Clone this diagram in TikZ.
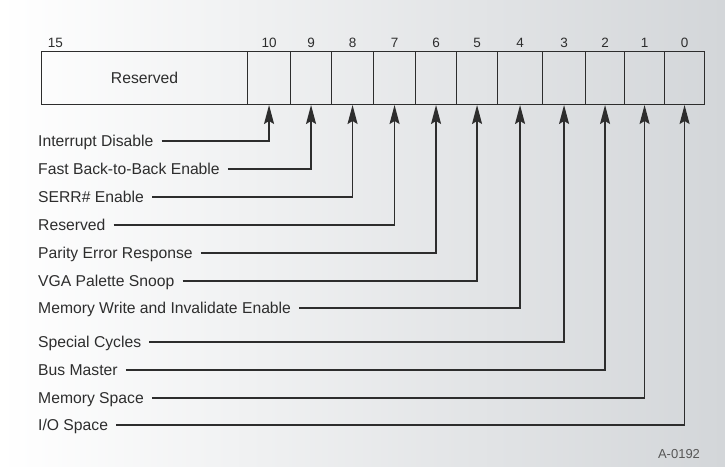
\documentclass[tikz,border=0pt]{standalone}
\usepackage{fontspec}
\setmainfont{Liberation Sans}
\usetikzlibrary{arrows.meta,positioning}
\definecolor{bgright}{RGB}{211,214,217}
\definecolor{ink}{RGB}{45,45,45}

\begin{document}
\begin{tikzpicture}[x=1pt, y=-1pt,
        every node/.append style = {text=ink},
        cell/.style = {draw=ink, line width=1.1pt, minimum height=53pt, inner sep=0pt, anchor=south west},
        bitnum/.style = {font=\fontsize{13.5}{16}\selectfont, anchor=base, inner sep=0pt},
        field/.style = {font=\fontsize{15.7}{18}\selectfont, anchor=west, inner sep=0pt, text height=11.2pt, text depth=0pt},
        conn/.style = {draw=ink, line width=1.4pt, shorten <=8pt, -{Stealth[length=19pt,width=10pt,inset=3pt]}}]
    \shade[left color=white, right color=bgright] (0,0) rectangle (725,466);
    \useasboundingbox (0,0) rectangle (725,466);
    % register
    \node[cell, minimum width=206pt, font=\fontsize{15.7}{18}\selectfont] (rsv) at (41,105) {Reserved};
    \node[bitnum] (n15) at ([xshift=14.5pt,yshift=3.5pt]rsv.north west) {15};
    \foreach \b/\l/\r in {10/247/290, 9/290/331, 8/331/373, 7/373/415, 6/415/456,
                          5/456/497, 4/497/542, 3/542/585, 2/585/624, 1/624/664, 0/664/704} {
        \node[cell, minimum width={(\r-\l)*1pt}] (b\b) at (\l,105) {};
        \node[bitnum] (n\b) at ([yshift=3.5pt]b\b.north) {\b};
    }
    % fields
    \foreach \b/\y/\t in {10/141/Interrupt Disable, 9/169/Fast Back-to-Back Enable,
                          8/197/SERR\# Enable, 7/225/Reserved, 6/253/Parity Error Response,
                          5/281/VGA Palette Snoop, 4/308/Memory Write and Invalidate Enable,
                          3/342/Special Cycles, 2/370/Bus Master, 1/398/Memory Space,
                          0/425/{I/O Space}} {
        \node[field] (l\b) at (38,\y) {\t};
        \draw[conn] (l\b) -| (b\b.south);
    }
    \node[font=\fontsize{13}{15}\selectfont, text=ink!80] (fig) at (679,454) {A-0192};
\end{tikzpicture}
\end{document}
